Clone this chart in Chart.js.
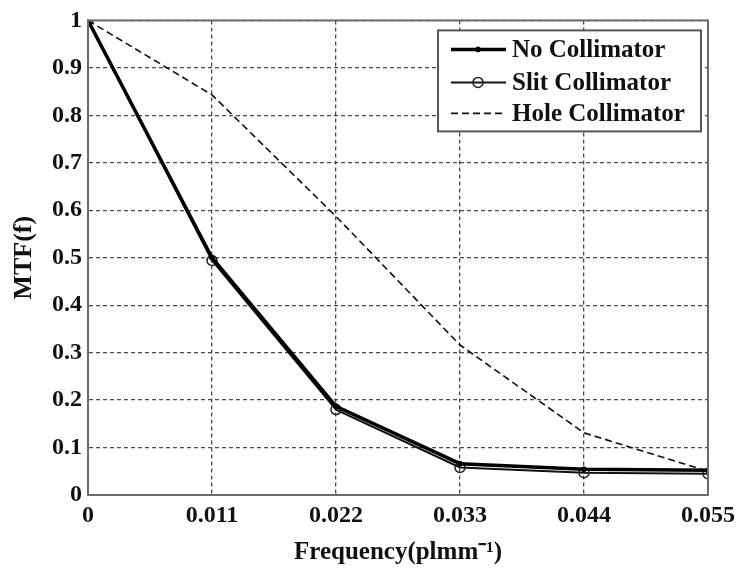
<!DOCTYPE html>
<html>
<head>
<meta charset="utf-8">
<script src="https://cdn.jsdelivr.net/npm/chart.js@4.4.1/dist/chart.umd.min.js"></script>
<style>
    html, body { margin: 0; padding: 0; background: #fff; }
    #wrap { width: 741px; height: 569px; }
</style>
</head>
<body>
<div id="wrap"><canvas id="myChart"></canvas></div>
<script>
// data
const freq = [0, 0.011, 0.022, 0.033, 0.044, 0.055];
const noCollimator = [1, 0.5, 0.187, 0.066, 0.054, 0.052];
const slitCollimator = [1, 0.494, 0.18, 0.058, 0.047, 0.045];
const holeCollimator = [1, 0.843, 0.587, 0.316, 0.131, 0.05];
const xTicks = [0, 0.011, 0.022, 0.033, 0.044, 0.055];
const yTicks = [0, 0.1, 0.2, 0.3, 0.4, 0.5, 0.6, 0.7, 0.8, 0.9, 1];

const serif = '"Liberation Serif", "Times New Roman", serif';

function points(ys) {
    return freq.map((x, i) => ({ x: x, y: ys[i] }));
}

// box around the plot + legend with a frame (matlab style)
const frame = {
    id: 'frame',
    afterDatasetsDraw(chart) {
        const { ctx, chartArea: a } = chart;
        ctx.save();
        ctx.strokeStyle = '#6b6b6b';
        ctx.lineWidth = 2;
        ctx.strokeRect(a.left, a.top, a.right - a.left, a.bottom - a.top);
        ctx.restore();
    },
    afterDraw(chart) {
        const { ctx, chartArea: a } = chart;
        const w = 263, h = 101;
        const x = a.right - 7 - w, y = a.top + 10;
        ctx.save();
        ctx.fillStyle = '#fff';
        ctx.fillRect(x, y, w, h);
        ctx.strokeStyle = '#555';
        ctx.lineWidth = 2;
        ctx.strokeRect(x, y, w, h);

        const rows = [y + 19, y + 52, y + 83];
        chart.data.datasets.forEach((ds, i) => {
            const ry = rows[i];
            ctx.strokeStyle = ds.borderColor;
            ctx.lineWidth = ds.borderWidth;
            ctx.setLineDash(ds.borderDash || []);
            ctx.beginPath();
            ctx.moveTo(x + 13, ry);
            ctx.lineTo(x + 68, ry);
            ctx.stroke();
            ctx.setLineDash([]);
            if (ds.pointRadius > 0) {
                ctx.beginPath();
                ctx.arc(x + 40, ry, ds.pointRadius, 0, Math.PI * 2);
                ctx.fillStyle = ds.pointBackgroundColor;
                ctx.fill();
                ctx.lineWidth = ds.pointBorderWidth;
                ctx.strokeStyle = ds.pointBorderColor;
                ctx.stroke();
            }
            ctx.fillStyle = '#111';
            ctx.font = 'bold 25px ' + serif;
            ctx.textBaseline = 'middle';
            ctx.fillText(ds.label, x + 74, ry + 1);
        });
        ctx.restore();
    }
};

const ctx = document.getElementById('myChart').getContext('2d');

const config = {
    type: 'line',
    data: {
        datasets: [{
            label: 'No Collimator',
            data: points(noCollimator),
            borderColor: '#000',
            borderWidth: 3.5,
            pointRadius: 2.5,
            pointBackgroundColor: '#000',
            pointBorderColor: '#000',
            pointBorderWidth: 1,
        }, {
            label: 'Slit Collimator',
            data: points(slitCollimator),
            borderColor: '#111',
            borderWidth: 2,
            pointRadius: 5,
            pointBackgroundColor: 'rgba(255,255,255,0)',
            pointBorderColor: '#222',
            pointBorderWidth: 1.5,
        }, {
            label: 'Hole Collimator',
            data: points(holeCollimator),
            borderColor: '#111',
            borderWidth: 1.6,
            borderDash: [7, 4],
            pointRadius: 0,
        }],
    },
    options: {
        responsive: true,
        maintainAspectRatio: false,
        animation: false,
        layout: { padding: { top: 15, right: 29, left: 0, bottom: 0 } },
        plugins: {
            legend: { display: false },
            tooltip: { enabled: false },
        },
        scales: {
            x: {
                type: 'linear',
                min: 0,
                max: 0.055,
                afterBuildTicks: (s) => { s.ticks = xTicks.map(v => ({ value: v })); },
                afterFit: (s) => { s.height = 74; },
                grid: {
                    color: '#4a4a4a',
                    lineWidth: 1.3,
                    drawTicks: false,
                },
                border: { display: true, color: '#6b6b6b', width: 2, dash: [4, 3] },
                ticks: {
                    color: '#111',
                    padding: 6,
                    font: { family: serif, size: 24, weight: 'bold' },
                    callback: (v) => String(v),
                },
                title: {
                    display: true,
                    text: 'Frequency(plmm⁻¹)',
                    color: '#111',
                    font: { family: serif, size: 25, weight: 'bold' },
                    padding: { top: 0, bottom: 1 },
                },
            },
            y: {
                min: 0,
                max: 1,
                afterBuildTicks: (s) => { s.ticks = yTicks.map(v => ({ value: v })); },
                afterFit: (s) => { s.width = 88; },
                grid: {
                    color: '#4a4a4a',
                    lineWidth: 1.3,
                    drawTicks: false,
                },
                border: { display: true, color: '#6b6b6b', width: 2, dash: [4, 3] },
                ticks: {
                    color: '#111',
                    padding: 6,
                    font: { family: serif, size: 24, weight: 'bold' },
                    callback: (v) => String(v),
                },
                title: {
                    display: true,
                    text: 'MTF(f)',
                    color: '#111',
                    font: { family: serif, size: 26, weight: 'bold' },
                    padding: { top: 9, bottom: 0 },
                },
            },
        },
    },
    plugins: [frame],
};

const myChart = new Chart(ctx, config);
</script>
</body>
</html>
